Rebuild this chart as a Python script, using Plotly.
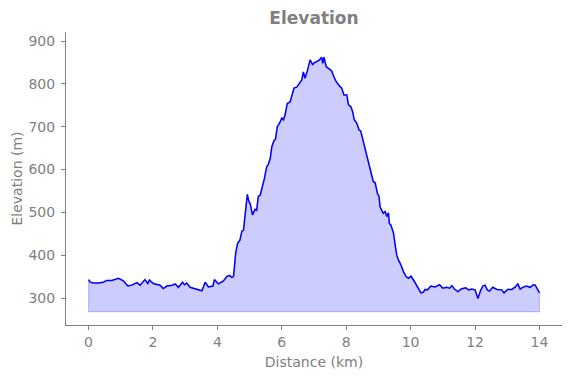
import plotly.graph_objects as go

distance_km = [0.00, 0.05, 0.15, 0.30, 0.46, 0.56, 0.72, 0.85, 0.93, 1.08, 1.22, 1.34, 1.50, 1.60, 1.75, 1.84, 1.89, 2.01,
               2.22, 2.32, 2.43, 2.60, 2.69, 2.79, 2.92, 2.98, 3.05, 3.15, 3.36, 3.52, 3.62, 3.72, 3.86, 3.91, 4.03, 4.19,
               4.29, 4.37, 4.45, 4.50, 4.57, 4.63, 4.70, 4.76, 4.81, 4.86, 4.93, 4.98, 5.02, 5.09, 5.17, 5.22, 5.27, 5.33,
               5.37, 5.42, 5.46, 5.53, 5.58, 5.64, 5.69, 5.76, 5.80, 5.86, 5.93, 6.00, 6.05, 6.10, 6.17, 6.26, 6.34, 6.38,
               6.47, 6.57, 6.62, 6.67, 6.72, 6.80, 6.88, 6.96, 7.00, 7.09, 7.17, 7.24, 7.27, 7.31, 7.38, 7.45, 7.55, 7.62,
               7.69, 7.79, 7.86, 7.93, 8.02, 8.07, 8.14, 8.20, 8.25, 8.33, 8.40, 8.45, 8.52, 8.59, 8.66, 8.71, 8.79, 8.84,
               8.90, 8.97, 9.02, 9.05, 9.10, 9.15, 9.21, 9.26, 9.31, 9.34, 9.39, 9.47, 9.52, 9.57, 9.62, 9.70, 9.78, 9.86,
               9.93, 10.01, 10.09, 10.19, 10.27, 10.32, 10.40, 10.45, 10.52, 10.63, 10.76, 10.90, 11.00, 11.12, 11.21,
               11.28, 11.36, 11.47, 11.57, 11.71, 11.80, 11.90, 12.00, 12.09, 12.16, 12.24, 12.31, 12.38, 12.45, 12.55,
               12.68, 12.83, 12.90, 13.01, 13.14, 13.25, 13.33, 13.40, 13.48, 13.59, 13.71, 13.81, 13.87, 13.94, 14.00]

elevation_m = [343, 337, 335, 335, 337, 341, 341, 345, 346, 340, 328, 330, 336, 330, 343, 334, 342, 334,
               330, 322, 328, 330, 333, 325, 337, 331, 335, 325, 320, 317, 337, 326, 328, 343, 333, 340,
               350, 353, 348, 350, 406, 428, 435, 456, 458, 495, 542, 525, 520, 494, 507, 505, 537, 540,
               552, 560, 579, 606, 612, 625, 653, 668, 670, 700, 708, 720, 716, 727, 754, 758, 778, 790,
               793, 805, 809, 828, 813, 832, 856, 844, 849, 852, 856, 862, 848, 862, 840, 836, 830, 816,
               805, 795, 790, 774, 774, 751, 747, 735, 716, 708, 692, 690, 669, 646, 626, 607, 587, 572,
               569, 544, 537, 513, 505, 498, 502, 490, 499, 474, 470, 451, 424, 400, 389, 377, 361, 350,
               346, 351, 342, 330, 319, 312, 314, 320, 319, 328, 326, 331, 323, 325, 323,
               329, 321, 315, 321, 324, 319, 321, 319, 299, 315, 328, 330, 319, 316, 325,
               320, 319, 312, 320, 320, 326, 333, 321, 325, 328, 325, 331, 330, 319, 312]

fill_base_m = 268
x_ticks = [0, 2, 4, 6, 8, 10, 12, 14]
y_ticks = [300, 400, 500, 600, 700, 800, 900]

GRAY = "#808080"
FONT = "DejaVu Sans"

fig = go.Figure()

# filled area polygon (top along profile, back along baseline)
poly_x = distance_km + distance_km[::-1] + [distance_km[0]]
poly_y = elevation_m + [fill_base_m] * len(distance_km) + [elevation_m[0]]
fig.add_trace(go.Scatter(
    x=poly_x, y=poly_y, mode="lines", fill="toself",
    fillcolor="rgba(0,0,255,0.2)", line=dict(color="rgba(0,0,255,0.2)", width=1.2),
    hoverinfo="skip", showlegend=False))

fig.add_trace(go.Scatter(
    x=distance_km, y=elevation_m, mode="lines",
    line=dict(color="#0000ff", width=1.5), showlegend=False))

axis_common = dict(
    showgrid=False, zeroline=False, showline=True, linecolor=GRAY, linewidth=1,
    ticks="outside", ticklen=4, tickcolor=GRAY, tickwidth=1, automargin=False,
    tickfont=dict(family=FONT, size=14, color=GRAY), mirror=False,
)

fig.update_layout(
    width=571, height=378,
    margin=dict(l=66, r=9, t=32, b=53),
    paper_bgcolor="white", plot_bgcolor="white",
    title=dict(text="<b>Elevation</b>", x=(66 + 562) / 2 / 571, xanchor="center",
               y=1 - 18 / 378, yanchor="middle",
               font=dict(family=FONT, size=17, color=GRAY)),
    xaxis=dict(range=[-0.7, 14.7], tickvals=x_ticks, ticktext=[str(v) for v in x_ticks],
               title=dict(text="Distance (km)", font=dict(family=FONT, size=14, color=GRAY), standoff=8),
               **axis_common),
    yaxis=dict(range=[237, 921], tickvals=y_ticks, ticktext=[str(v) for v in y_ticks],
               title=dict(text="Elevation (m)", font=dict(family=FONT, size=14, color=GRAY), standoff=2),
               ticklabelstandoff=3,
               **axis_common),
)

fig.write_html("out.html", config={"displayModeBar": False},
               post_script="document.body.style.margin='0';")
